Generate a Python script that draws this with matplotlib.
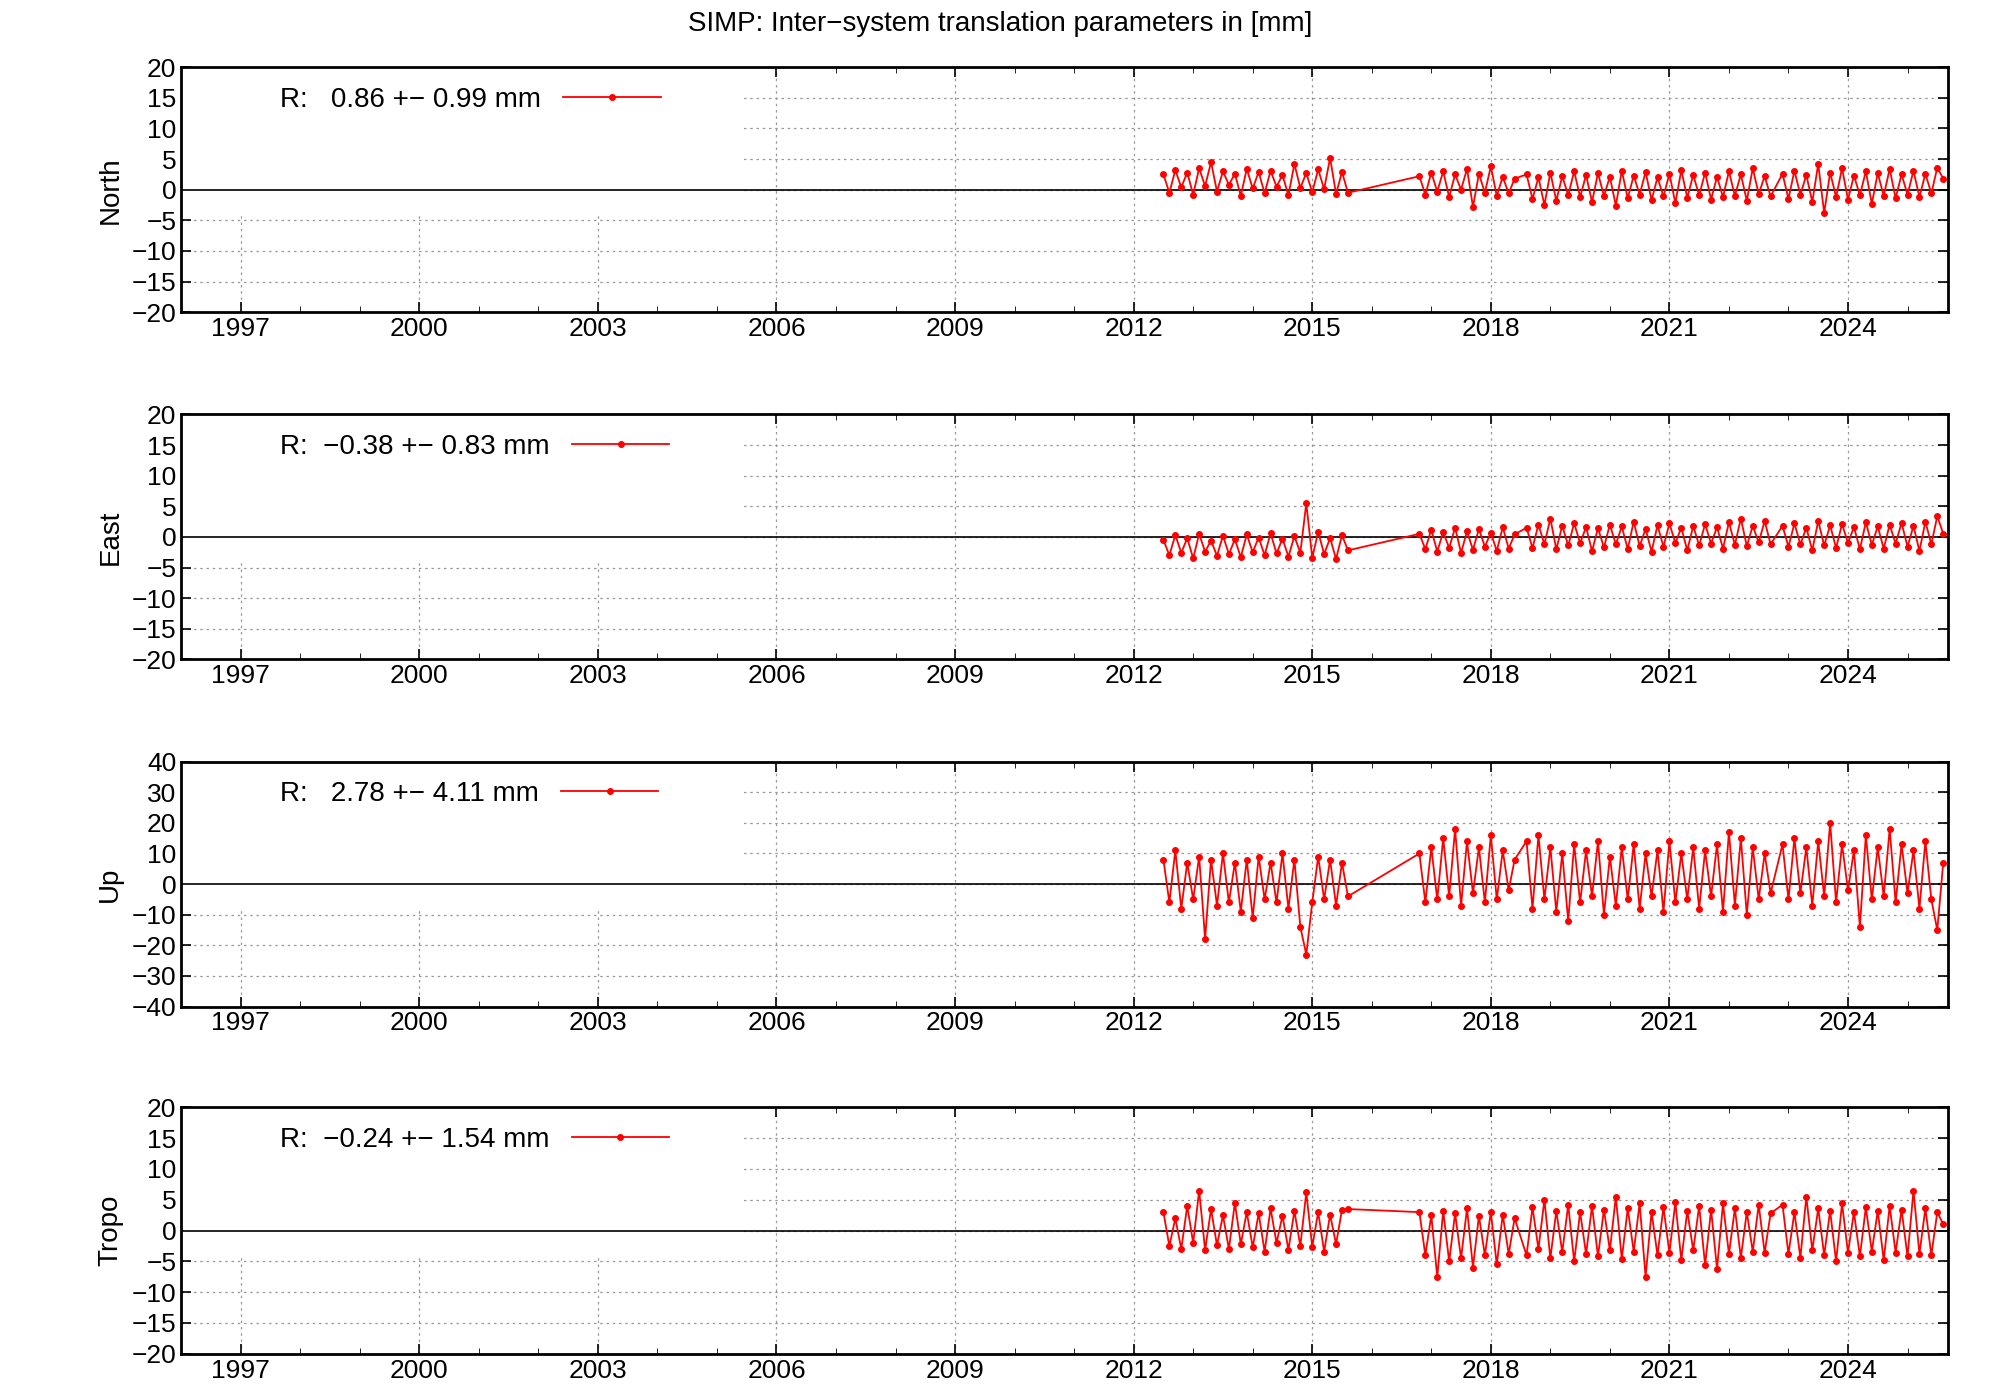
import numpy as np
import matplotlib.pyplot as plt
import matplotlib.transforms as mtransforms
from matplotlib.patches import Rectangle
from matplotlib.ticker import MultipleLocator

seg1 = [2012.5,2012.6,2012.7,2012.8,2012.9,2013.0,2013.1,2013.2,2013.3,2013.4,2013.5,2013.6,2013.7,2013.8,2013.9,2014.0,
        2014.1,2014.2,2014.3,2014.4,2014.5,2014.6,2014.7,2014.8,2014.9,2015.0,2015.1,2015.2,2015.3,2015.4,2015.5,2015.6]
seg2 = [2016.8,2016.9,2017.0,2017.1,2017.2,2017.3,2017.4,2017.5,2017.6,2017.7,2017.8,2017.9,2018.0,2018.1,2018.2,2018.3,2018.4]
seg3 = [2018.6,2018.7,2018.8,2018.9,2019.0,2019.1,2019.2,2019.3,2019.4,2019.5,2019.6,2019.7,2019.8,2019.9,2020.0,2020.1,
        2020.2,2020.3,2020.4,2020.5,2020.6,2020.7,2020.8,2020.9,2021.0,2021.1,2021.2,2021.3,2021.4,2021.5,2021.6,2021.7,
        2021.8,2021.9,2022.0,2022.1,2022.2,2022.3,2022.4,2022.5,2022.6,2022.7]
seg4 = [2022.9,2023.0,2023.1,2023.2,2023.3,2023.4,2023.5,2023.6,2023.7,2023.8,2023.9,2024.0,2024.1,2024.2,2024.3,2024.4,
        2024.5,2024.6,2024.7,2024.8,2024.9,2025.0,2025.1,2025.2,2025.3,2025.4,2025.5,2025.6]
dates = seg1 + seg2 + seg3 + seg4

north = [2.5,-0.5,3.2,0.4,2.8,-0.8,3.5,0.6,4.5,-0.3,3.0,0.8,2.6,-1.0,3.4,0.2,2.9,-0.6,3.1,0.5,2.4,-0.9,4.2,0.3,2.7,-0.4,3.3,0.1,5.2,-0.7,2.9,-0.5,
         2.2,-0.8,2.8,-0.3,3.0,-1.2,2.5,0.0,3.4,-2.8,2.6,-0.5,3.8,-1.0,2.1,-0.6,1.8,
         2.5,-1.5,2.0,-2.5,2.8,-1.8,2.2,-0.9,3.0,-1.2,2.4,-2.0,2.7,-1.0,2.1,-2.6,3.1,-1.4,2.3,-0.8,2.9,-1.7,2.0,-1.1,2.6,-2.2,3.2,-1.3,2.4,-0.9,2.8,-1.6,2.1,-1.2,3.0,-1.0,2.5,-1.8,3.5,-0.7,2.2,-1.1,
         2.6,-1.5,3.1,-0.8,2.4,-2.0,4.2,-3.8,2.8,-1.2,3.5,-1.6,2.3,-0.9,3.0,-2.3,2.7,-1.0,3.4,-1.4,2.5,-0.8,3.1,-1.2,2.6,-0.6,3.6,1.8]
east = [-0.5,-3.0,0.3,-2.6,-0.2,-3.5,0.5,-2.4,-0.6,-3.1,0.2,-2.8,-0.4,-3.3,0.4,-2.5,-0.1,-3.0,0.6,-2.7,-0.3,-3.2,0.1,-2.6,5.5,-3.4,0.8,-2.8,-0.2,-3.6,0.3,-2.2,
        0.5,-2.0,1.2,-2.4,0.8,-1.8,1.5,-2.6,0.9,-2.1,1.3,-1.6,0.7,-2.3,1.6,-1.9,0.4,
        1.5,-1.8,2.0,-1.2,3.0,-2.0,1.8,-1.4,2.2,-1.0,1.6,-2.3,1.4,-1.7,2.0,-1.2,1.7,-2.0,2.5,-1.5,1.3,-2.4,1.9,-1.6,2.2,-1.0,1.5,-2.2,1.8,-1.4,2.1,-1.1,1.6,-1.9,2.4,-1.3,3.0,-1.5,1.8,-0.9,2.6,-1.2,
        1.8,-1.6,2.2,-1.2,1.5,-2.2,2.6,-1.4,1.9,-1.8,2.1,-1.0,1.6,-2.0,2.4,-1.3,1.7,-1.9,2.0,-1.1,2.3,-1.6,1.8,-2.3,2.5,-1.2,3.4,0.5]
up = [8,-6,11,-8,7,-5,9,-18,8,-7,10,-6,7,-9,8,-11,9,-5,7,-6,10,-8,8,-14,-23,-6,9,-5,8,-7,7,-4,
      10,-6,12,-5,15,-4,18,-7,14,-3,12,-6,16,-5,11,-2,8,
      14,-8,16,-5,12,-9,10,-12,13,-6,11,-4,14,-10,9,-7,12,-5,13,-8,10,-4,11,-9,14,-6,10,-5,12,-8,11,-4,13,-9,17,-7,15,-10,12,-5,10,-3,
      13,-5,15,-3,12,-7,14,-4,20,-6,13,-2,11,-14,16,-5,12,-4,18,-6,13,-3,11,-8,14,-5,-15,7]
tropo = [3,-2.5,2,-3,4,-2,6.5,-3.2,3.5,-2.4,2.5,-3,4.5,-2.2,3,-2.7,2.8,-3.4,3.6,-2,2.4,-3.1,3.2,-2.5,6.2,-2.6,3,-3.4,2.6,-2.2,3.4,3.5,
         3,-4,2.5,-7.5,3.2,-5,2.8,-4.5,3.6,-6,2.4,-4,3,-5.5,2.6,-3.8,2,
         -4,3.8,-3,5,-4.5,3.2,-3.5,4.2,-5,3,-3.8,4,-4.2,3.4,-3.2,5.5,-4.6,3.6,-3.4,4.4,-7.5,3,-4,3.8,-3.6,4.6,-4.8,3.2,-3.2,4,-5.6,3.4,-6.2,4.4,-3.8,3.6,-4.4,3,-3.4,4.2,-3.6,2.8,
         4.2,-3.8,3,-4.4,5.5,-3.2,3.6,-4,3.2,-5,4.4,-3.6,3,-4.2,3.8,-3.4,3.2,-4.8,4,-3.6,3.4,-4.2,6.5,-3.8,3.6,-4,3,1]

names = ["North", "East", "Up", "Tropo"]
series = [north, east, up, tropo]
labels = ["R:   0.86 +\u2212 0.99 mm", "R:  \u22120.38 +\u2212 0.83 mm",
          "R:   2.78 +\u2212 4.11 mm", "R:  \u22120.24 +\u2212 1.54 mm"]
limits = [20, 20, 40, 20]
year_ticks = [1997, 2000, 2003, 2006, 2009, 2012, 2015, 2018, 2021, 2024]

plt.rcParams['font.family'] = 'Liberation Sans'
plt.rcParams['axes.unicode_minus'] = True
fig = plt.figure(figsize=(20, 14), dpi=100)
boxes = [(0.777, 0.952), (0.529, 0.704), (0.281, 0.456), (0.033, 0.209)]
for (b, t), name, vals, lab, lim in zip(boxes, names, series, labels, limits):
    ax = fig.add_axes([0.0906, b, 0.974 - 0.0906, t - b])
    ax.set_axisbelow(True)
    ax.set_xlim(1996.0, 2025.68)
    ax.set_ylim(-lim, lim)
    ax.set_xticks(year_ticks)
    ax.xaxis.set_minor_locator(MultipleLocator(1))
    step = 5 if lim == 20 else 10
    ax.set_yticks(np.arange(-lim, lim + 1, step))
    ax.grid(True, which='major', linestyle=(0, (2, 3)), color='#999999', linewidth=0.9)
    # white legend area masking the grid
    trans = mtransforms.blended_transform_factory(ax.transData, ax.transAxes)
    ax.add_patch(Rectangle((1996.0, 0.4), 2005.4 - 1996.0, 0.6, transform=trans,
                           facecolor='white', edgecolor='none', zorder=1))
    ax.axhline(0, color='black', linewidth=1.2, zorder=2)
    ax.plot(dates, vals, color='red', marker='o', markersize=4, linewidth=1.3, label=lab, zorder=3)
    for s in ax.spines.values():
        s.set_linewidth(2)
        s.set_zorder(6)
    ax.tick_params(axis='both', which='major', labelsize=19, direction='in', length=7, width=1.2, top=True, right=True)
    ax.tick_params(axis='both', which='minor', direction='in', length=4, top=True, right=True)
    ax.set_ylabel(name, fontsize=20, labelpad=6)
    leg = ax.legend(loc='upper left', fontsize=20, frameon=False,
                    handlelength=3.5, markerfirst=False, borderaxespad=0.3,
                    bbox_to_anchor=(0.045, 1.0))
    leg.set_zorder(5)
fig.suptitle("SIMP: Inter\u2212system translation parameters in [mm]", fontsize=20, y=0.992)
fig.savefig("out.png", dpi=100)
